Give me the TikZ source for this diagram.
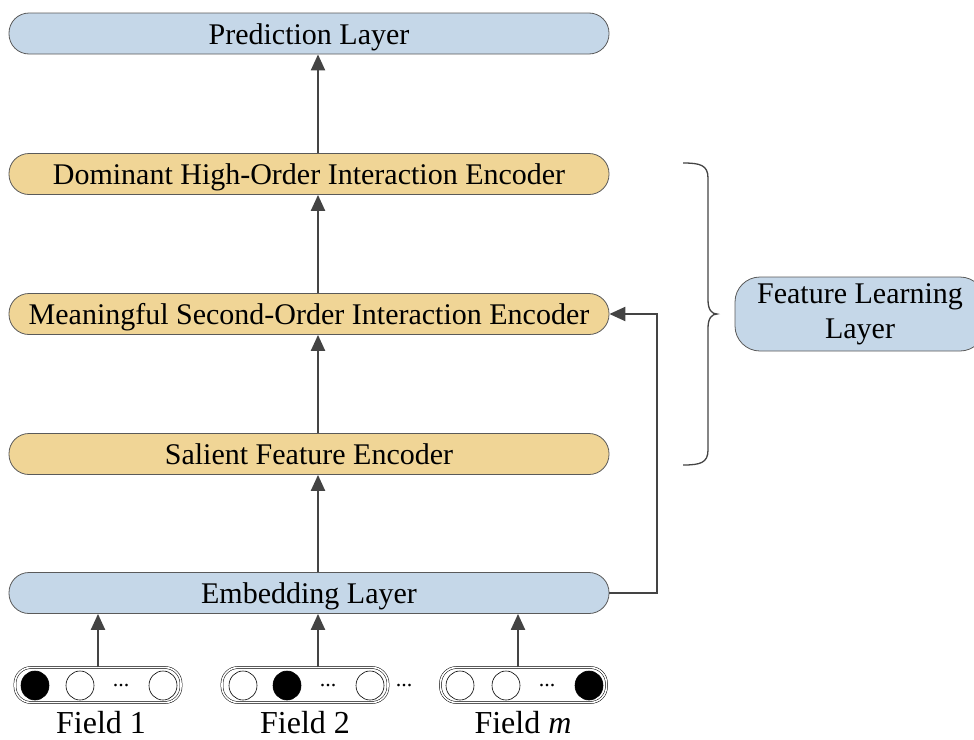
\documentclass[tikz,border=0pt]{standalone}
\usepackage{fontspec}
\setmainfont{Liberation Serif}
\usetikzlibrary{arrows.meta}
\definecolor{layerblue}{RGB}{197,215,232}
\definecolor{encoderyellow}{RGB}{240,213,150}
\definecolor{edgegray}{RGB}{90,90,90}
\definecolor{arrowgray}{RGB}{68,68,68}

\begin{document}
\begin{tikzpicture}[x=1pt,y=1pt,yscale=-1,
    layer/.style={draw=edgegray, line width=0.8pt, rounded corners=20pt, minimum width=600pt, minimum height=41pt, inner sep=0pt, text height=21pt, text depth=0pt, font=\fontsize{30}{35}\selectfont},
    bluelayer/.style={layer, fill=layerblue},
    encoder/.style={layer, fill=encoderyellow},
    fieldbox/.style={draw=black, line width=0.5pt, double=white, double distance=1.6pt, rounded corners=16pt, minimum width=166pt, minimum height=35pt, inner sep=0pt},
    fieldlabel/.style={inner sep=0pt, anchor=base, font=\fontsize{32}{36}\selectfont},
    flow/.style={draw=arrowgray, line width=2.2pt, -{Triangle[length=16pt,width=14pt]}}]
    \useasboundingbox (0,0) rectangle (974,739);

    % Layer Nodes
    \node[bluelayer] (pred) at (309,33.5) {Prediction Layer};
    \node[encoder] (dom) at (309,174) {Dominant High-Order Interaction Encoder};
    \node[encoder] (mean) at (309,314) {Meaningful Second-Order Interaction Encoder};
    \node[encoder] (sal) at (309,454) {Salient Feature Encoder};
    \node[bluelayer] (emb) at (309,593) {Embedding Layer};

    % Field Nodes
    \node[fieldbox] (f1) at (98,685) {};
    \node[fieldbox] (f2) at (305,685) {};
    \node[fieldbox] (fm) at (523.5,685) {};
    \foreach \cx/\cfill in {35/black,80/white,163/white,243/white,287/black,370/white,460/white,506/white,589/black}
        \draw[fill=\cfill, line width=0.6pt] (\cx,685.5) ellipse [x radius=14, y radius=14.5];
    \foreach \dx in {121,328,547,404}
        \node[inner sep=0pt, font=\fontsize{22}{22}\selectfont] at (\dx,686) {...};
    \node[fieldlabel] (l1) at (101,733) {Field 1};
    \node[fieldlabel] (l2) at (305,733) {Field 2};
    \node[fieldlabel] (lm) at (523,733) {Field \textit{m}};

    % Side Node
    \node[draw=edgegray, line width=0.8pt, fill=layerblue, rounded corners=25pt, minimum width=250pt, minimum height=74pt, align=center, font=\fontsize{30}{35}\selectfont] (feat) at (860,314) {Feature Learning\\Layer};

    % Brace
    \draw[arrowgray, line width=1.3pt] (683,163) .. controls (700,163) and (708,165) .. (708,178) -- (708,300) .. controls (708,310) and (712,314) .. (717,314) .. controls (712,314) and (708,318) .. (708,328) -- (708,450) .. controls (708,463) and (700,465) .. (683,465);

    % Arrows
    \draw[flow] ([xshift=9pt]emb.north) -- ([xshift=9pt]sal.south);
    \draw[flow] ([xshift=9pt]sal.north) -- ([xshift=9pt]mean.south);
    \draw[flow] ([xshift=9pt]mean.north) -- ([xshift=9pt]dom.south);
    \draw[flow] ([xshift=9pt]dom.north) -- ([xshift=9pt]pred.south);
    \draw[flow] (f1.north) -- (f1.north |- emb.south);
    \draw[flow] ([xshift=13pt]f2.north) -- ([xshift=13pt]f2.north |- emb.south);
    \draw[flow] ([xshift=-5.5pt]fm.north) -- ([xshift=-5.5pt]fm.north |- emb.south);
    \coordinate (turn) at (657,593);
    \draw[flow] (emb.east) -- (turn) |- (mean.east);

\end{tikzpicture}
\end{document}
